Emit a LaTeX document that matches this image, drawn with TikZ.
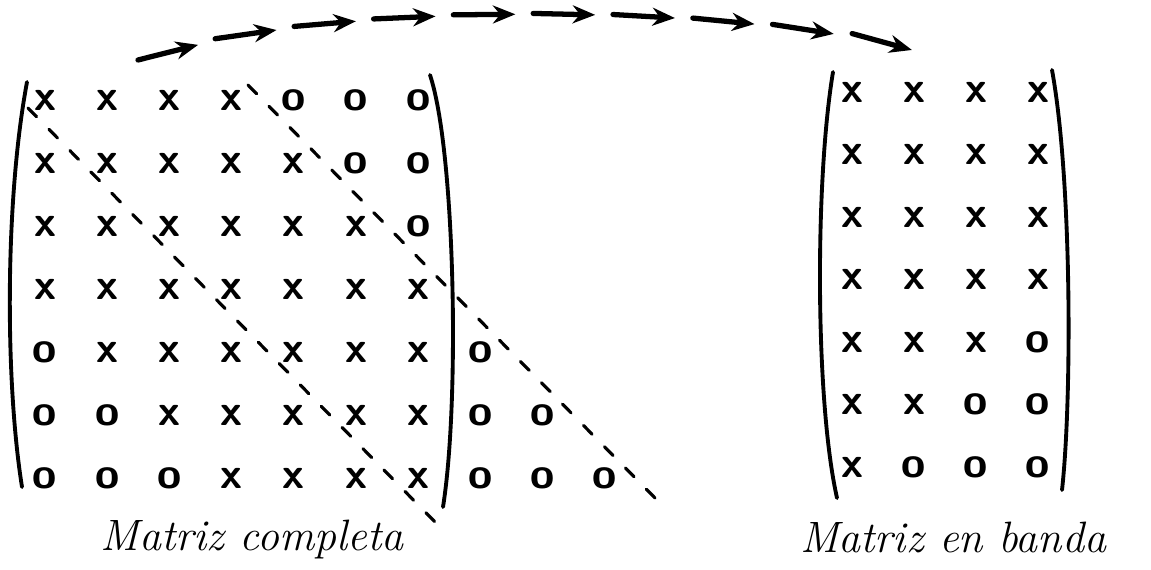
\documentclass[tikz,border=0pt]{standalone}
\usepackage{tikz}
\usetikzlibrary{arrows.meta,decorations.markings}

\begin{document}
\begin{tikzpicture}[x=0.02cm, y=-0.02cm, line cap=round,
  entry/.style={font=\fontsize{25}{25}\selectfont\sffamily\bfseries, inner sep=0pt},
  paren/.style={line width=2.2pt},
  bandline/.style={line width=1.8pt, dash pattern=on 7pt off 10pt},
  mname/.style={font=\fontsize{25}{28}\selectfont\itshape, inner sep=0pt},
  dasharrow/.style={postaction={decorate}, decoration={markings,
    mark=between positions 0.079 and 1 step 0.1023 with
    {\draw[line width=3pt, -{Stealth[length=4.5mm, width=3.6mm]}] (-1.24cm,0) -- (0,0);}}}]
\useasboundingbox (0,0) rectangle (1151,569);

% matriz completa (con los ceros que sobran a la derecha)
\foreach \row [count=\i] in {{x,x,x,x,o,o,o},{x,x,x,x,x,o,o},{x,x,x,x,x,x,o},
    {x,x,x,x,x,x,x},{o,x,x,x,x,x,x,o},{o,o,x,x,x,x,x,o,o},{o,o,o,x,x,x,x,o,o,o}}
  \foreach \e [count=\j] in \row
    \node[entry] (l-\i-\j) at ({45+62.2*(\j-1)}, {100+63*(\i-1)}) {\e};

% matriz en banda
\foreach \row [count=\i] in {{x,x,x,x},{x,x,x,x},{x,x,x,x},{x,x,x,x},
    {x,x,x,o},{x,x,o,o},{x,o,o,o}}
  \foreach \e [count=\j] in \row
    \node[entry] (r-\i-\j) at ({852+62*(\j-1)}, {92+62.5*(\i-1)}) {\e};

% parentesis
\draw[paren] (27,82) .. controls (5,200) and (5,380) .. (22,487);
\draw[paren] (430,75) .. controls (455,150) and (460,400) .. (443,507);
\draw[paren] (833,72) .. controls (815,180) and (815,400) .. (837,498);
\draw[paren] (1052,70) .. controls (1072,180) and (1072,400) .. (1062,490);

% limites de la banda
\draw[bandline] (28,108) -- (438,525);
\draw[bandline] (248,85) -- (655,498);

% flecha de una a otra
\coordinate (desde) at (140,65);
\coordinate (hasta) at (912,50);
\path[dasharrow] (desde) .. controls (270,0) and (730,0) .. (hasta);

\node[mname] (completa) at (252,540) {Matriz completa};
\node[mname] (banda) at (953,537) {Matriz en banda};
\end{tikzpicture}
\end{document}
